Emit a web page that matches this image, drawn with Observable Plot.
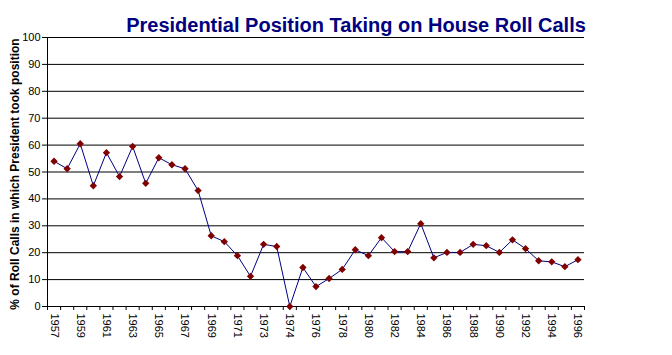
<!DOCTYPE html>
<html>
<head>
<meta charset="utf-8">
<script src="https://cdn.jsdelivr.net/npm/d3@7"></script>
<script src="https://cdn.jsdelivr.net/npm/@observablehq/plot@0.6"></script>
<style>
  html, body { margin: 0; padding: 0; background: white; }
  #chart svg { display: block; }
</style>
</head>
<body>
<div id="chart"></div>
<script>
const titleText = "Presidential Position Taking on House Roll Calls";
const yLabel = "% of Roll Calls in which President took position";

const years = ["1957","1958","1959","1960","1961","1962","1963","1964","1965","1966",
  "1967","1968","1969","1970","1971","1972","1973","1974","1974","1975",
  "1976","1977","1978","1979","1980","1981","1982","1983","1984","1985",
  "1986","1987","1988","1989","1990","1991","1992","1993","1994","1995","1996"];

const values = [54.0, 51.2, 60.5, 44.9, 57.2, 48.3, 59.5, 45.8, 55.3, 52.7,
  51.2, 43.1, 26.3, 24.1, 18.9, 11.2, 23.1, 22.3, 0, 14.5,
  7.4, 10.4, 13.8, 21.1, 18.9, 25.6, 20.4, 20.4, 30.8, 18.1,
  20.1, 20.1, 23.1, 22.6, 20.1, 24.8, 21.5, 17.0, 16.6, 14.8, 17.4];

const yTicks = [0, 10, 20, 30, 40, 50, 60, 70, 80, 90, 100];

const data = years.map((year, i) => ({i, year, value: values[i]}));
const labelIdx = years.map((_, i) => i).filter(i => i % 2 === 0);
const boundaries = d3.range(0, years.length + 1).map(k => k - 0.5);

const chart = Plot.plot({
  width: 672,
  height: 355,
  marginTop: 37,
  marginLeft: 47,
  marginRight: 88,
  marginBottom: 49,
  style: {fontFamily: "Arial, 'Liberation Sans', sans-serif", background: "white", color: "black"},
  x: {domain: [-0.5, years.length - 0.5], axis: null},
  y: {domain: [0, 100], axis: null},
  marks: [
    Plot.gridY(yTicks.filter(v => v > 0), {stroke: "black", strokeOpacity: 1}),
    Plot.ruleX([-0.5], {stroke: "black"}),
    Plot.ruleY([0], {stroke: "black"}),
    Plot.axisY(yTicks, {tickSize: 5, tickPadding: 2, fontSize: 11, label: null}),
    Plot.axisX(boundaries, {tickSize: 4, tickFormat: () => "", label: null}),
    Plot.axisX(labelIdx, {tickSize: 0, tickPadding: 7, tickRotate: 90, fontSize: 11,
      tickFormat: i => years[i], label: null}),
    Plot.line(data, {x: "i", y: "value", stroke: "#000080", strokeWidth: 1}),
    Plot.dot(data, {x: "i", y: "value", symbol: "diamond2", r: 3.3, fill: "#800000", stroke: "none"}),
    Plot.text([titleText], {frameAnchor: "top", lineAnchor: "bottom", textAnchor: "middle",
      dx: 40, dy: -6, text: d => d,
      fontSize: 20, fontWeight: "bold", fill: "#000080"}),
    Plot.text([yLabel], {frameAnchor: "left", textAnchor: "middle", lineAnchor: "bottom",
      dx: -29, dy: 2, rotate: -90, text: d => d,
      fontSize: 12, fontWeight: "bold", fill: "black"})
  ]
});
document.getElementById("chart").appendChild(chart);
</script>
</body>
</html>
